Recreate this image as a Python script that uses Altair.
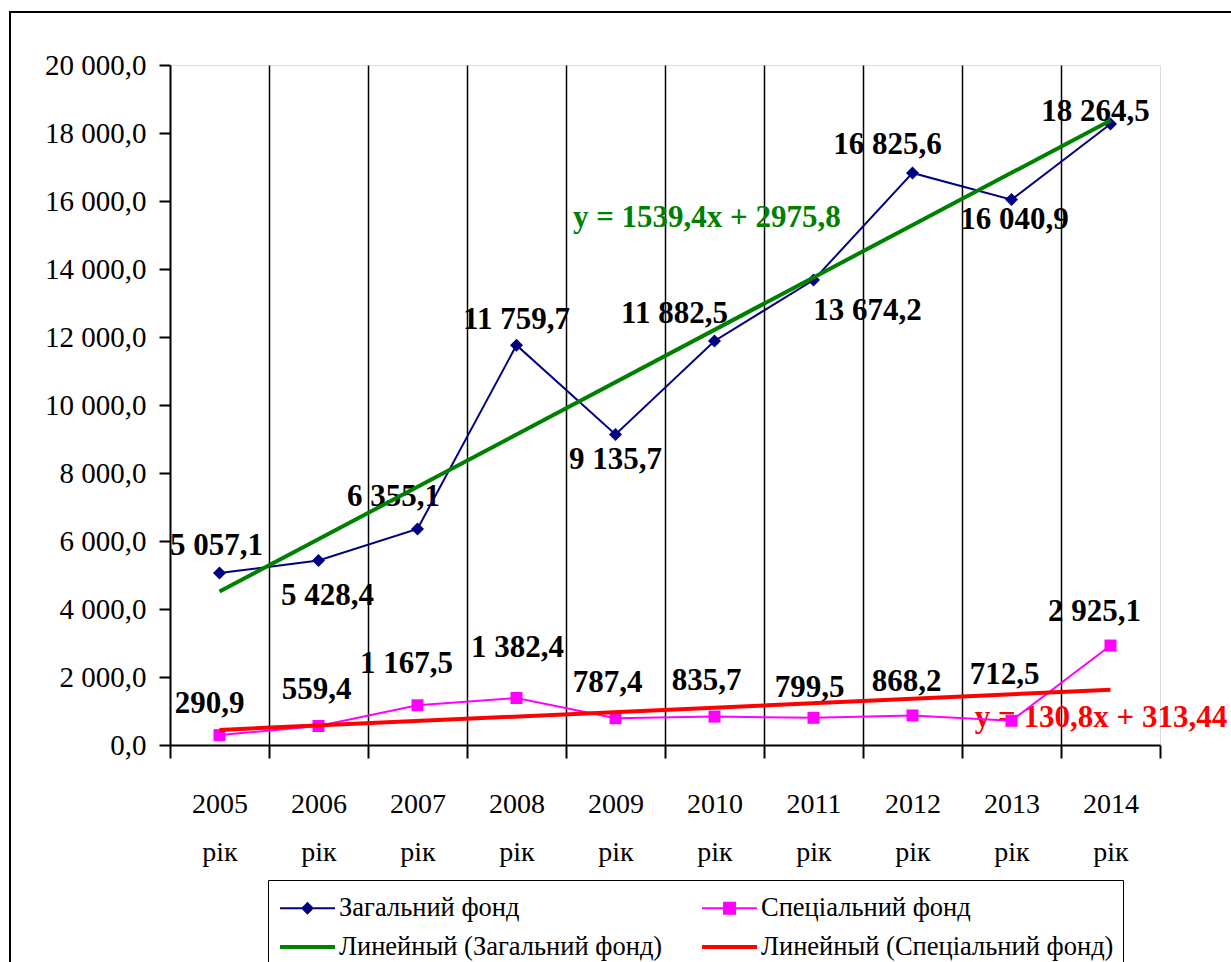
import json
import altair as alt
import pandas as pd

# ---------------- data ----------------
years = ["2005", "2006", "2007", "2008", "2009", "2010", "2011", "2012", "2013", "2014"]
year_suffix = "рік"
general = [5057.1, 5428.4, 6355.1, 11759.7, 9135.7, 11882.5, 13674.2, 16825.6, 16040.9, 18264.5]
special = [290.9, 559.4, 1167.5, 1382.4, 787.4, 835.7, 799.5, 868.2, 712.5, 2925.1]
# legend order (filled column by column)
series_names = ["Загальний фонд", "Линейный (Загальний фонд)",
                "Спеціальний фонд", "Линейный (Спеціальний фонд)"]
equations = ["y = 1539,4x + 2975,8", "y = 130,8x + 313,44"]
y_ticks = list(range(0, 20001, 2000))

# ---------------- styling / placement ----------------
FONT = "Liberation Serif"
C_GEN, C_SPEC, C_GTR, C_STR = "#000080", "#FF00FF", "#008000", "#FF0000"
gen_offsets = [(-3, -27), (9, 36), (-24, -32), (0, -25), (0, 26),
               (-40, -27), (54, 31), (-25, -28), (3, 20), (-15, -12)]
spec_offsets = [(-10, -31), (-2, -36), (-11, -41), (1, -50), (-8, -35),
                (-8, -36), (-4, -30), (-6, -33), (-7, -46), (-16, -34)]
eq_anchor_idx = [4.57, 8.63]
eq_anchor_val = [15500, 800]

idx = list(range(1, len(years) + 1))
df_gen = pd.DataFrame({"idx": idx, "val": general})
df_spec = pd.DataFrame({"idx": idx, "val": special})

x_vals = [i / 2 for i in range(1, 2 * len(years) + 2)]
label_expr = ("datum.value % 1 == 0 ? [" + json.dumps(years) +
              "[datum.value - 1], '" + year_suffix + "'] : ''")

x_axis = alt.Axis(
    values=x_vals, labelExpr=label_expr, title=None,
    labelFont=FONT, labelFontSize=28, labelColor="black", labelLineHeight=48,
    labelPadding=32, labelOverlap=False, labelFlush=False,
    tickSize=13, tickWidth=2, tickColor="black",
    tickOpacity={"condition": {"test": "datum.value % 1 == 0.5", "value": 1}, "value": 0},
    grid=True, gridColor="black", gridWidth=1.5,
    gridOpacity={"condition": {"test": "datum.value % 1 == 0.5 && datum.value > 1 && datum.value < 10",
                               "value": 1}, "value": 0},
    domainColor="black", domainWidth=2,
)
y_axis = alt.Axis(
    values=y_ticks, format=",.1f", title=None, grid=False,
    labelFont=FONT, labelFontSize=29, labelColor="black", labelPadding=13, labelFlush=False,
    tickSize=11, tickWidth=2, tickColor="black",
    domainColor="black", domainWidth=2,
)
xs = alt.Scale(domain=[0.5, 10.5], nice=False, zero=False)
ys = alt.Scale(domain=[0, 20000], nice=False)


def X():
    return alt.X("idx:Q", scale=xs, axis=x_axis)


def Y():
    return alt.Y("val:Q", scale=ys, axis=y_axis)


layers = []

# outer chart border
layers.append(
    alt.Chart(pd.DataFrame({"a": [0]})).mark_rect(fillOpacity=0, stroke="black", strokeWidth=2)
    .encode(x=alt.value(-160), x2=alt.value(1100), y=alt.value(-53), y2=alt.value(960))
)

# trend equations
eq_colors = [C_GTR, C_STR]
for k in range(2):
    d = pd.DataFrame({"idx": [eq_anchor_idx[k]], "val": [eq_anchor_val[k]], "t": [equations[k]]})
    layers.append(
        alt.Chart(d).mark_text(font=FONT, fontSize=31, fontWeight="bold", color=eq_colors[k],
                               align="left", baseline="middle")
        .encode(x=X(), y=Y(), text="t:N")
    )

# data labels
for df, offs in ((df_gen, gen_offsets), (df_spec, spec_offsets)):
    for i in range(len(df)):
        layers.append(
            alt.Chart(df.iloc[[i]]).mark_text(font=FONT, fontSize=31, fontWeight="bold", color="black",
                                              align="center", baseline="middle",
                                              dx=offs[i][0], dy=offs[i][1])
            .encode(x=X(), y=Y(), text=alt.Text("val:Q", format=",.1f"))
        )

# series
layers.append(alt.Chart(df_spec).mark_line(color=C_SPEC, strokeWidth=2).encode(x=X(), y=Y()))
layers.append(alt.Chart(df_spec).mark_point(shape="square", filled=True, color=C_SPEC, size=144, opacity=1)
              .encode(x=X(), y=Y()))
layers.append(alt.Chart(df_gen).mark_line(color=C_GEN, strokeWidth=2).encode(x=X(), y=Y()))
layers.append(alt.Chart(df_gen).mark_point(shape="diamond", filled=True, color=C_GEN, size=169, opacity=1)
              .encode(x=X(), y=Y()))

# linear trends
layers.append(alt.Chart(df_spec).transform_regression("idx", "val", method="linear")
              .mark_line(color=C_STR, strokeWidth=4).encode(x=X(), y=Y()))
layers.append(alt.Chart(df_gen).transform_regression("idx", "val", method="linear")
              .mark_line(color=C_GTR, strokeWidth=4).encode(x=X(), y=Y()))

# legend (driven by the series names)
p_gen = "M-0.842,-0.053H2.052V0.053H-0.842Z M0.605,-0.34L0.945,0L0.605,0.34L0.265,0Z"
p_spec = "M-0.842,-0.053H2.052V0.053H-0.842Z M0.265,-0.34H0.945V0.34H0.265Z"
p_tr = "M-0.842,-0.105H2.052V0.105H-0.842Z"
leg = alt.Legend(
    title=None, orient="none", legendX=98, legendY=815, columns=2,
    symbolSize=1444, symbolStrokeWidth=0, symbolOpacity=1,
    labelFont=FONT, labelFontSize=26.5, labelColor="black", labelLimit=600, labelOffset=24,
    labelBaseline="middle",
    columnPadding=36, rowPadding=6, padding=9,
    strokeColor="black", fillColor="white",
)
layers.append(
    alt.Chart(pd.DataFrame({"series": series_names})).mark_point(filled=True, opacity=1)
    .encode(
        x=alt.value(-5000), y=alt.value(-5000),
        color=alt.Color("series:N", scale=alt.Scale(domain=series_names,
                                                    range=[C_GEN, C_GTR, C_SPEC, C_STR]), legend=leg),
        shape=alt.Shape("series:N", scale=alt.Scale(domain=series_names,
                                                    range=[p_gen, p_tr, p_spec, p_tr]), legend=leg),
    )
)

chart = (
    alt.layer(*layers)
    .properties(width=990, height=680, autosize=alt.AutoSizeParams(type="none"),
                padding={"left": 170, "top": 65, "right": 71, "bottom": 217},
                background="white")
    .configure_view(stroke="#808080", strokeWidth=1.5)
    .configure_legend(strokeWidth=2)
    .configure(locale={"number": {"decimal": ",", "thousands": " ", "grouping": [3],
                                  "currency": ["", ""]}})
)

chart.save("out.html", embed_options={"renderer": "svg", "actions": False})
